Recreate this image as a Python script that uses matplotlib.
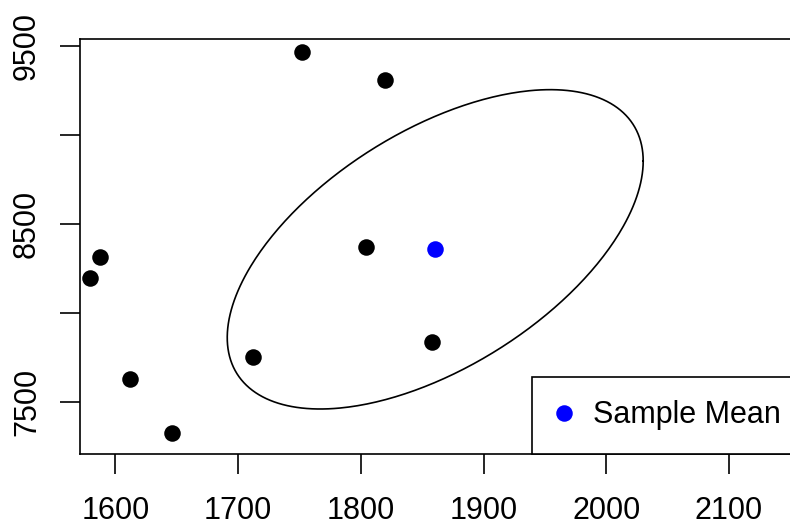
import numpy as np
import matplotlib
matplotlib.use("Agg")
import matplotlib.pyplot as plt
from matplotlib.lines import Line2D

plt.rcParams['font.family'] = ['Liberation Sans', 'DejaVu Sans']

# Observations (x, y)
obs_x = [1579, 1587, 1612, 1646, 1712, 1752, 1804, 1820, 1858]
obs_y = [8197, 8315, 7626, 7322, 7751, 9466, 8367, 9307, 7834]

# Sample mean
mean_xy = [1860.6, 8356]

# Ellipse shape matrix (covariance-like), radius 1
ellipse_cov = [[28730.0, 84060.0], [84060.0, 804600.0]]

x_ticks = [1600, 1700, 1800, 1900, 2000, 2100]
y_ticks = [7500, 8000, 8500, 9000, 9500]
y_tick_labels = ['7500', '', '8500', '', '9500']
legend_label = 'Sample Mean'

W, H = 790, 526
fig = plt.figure(figsize=(W / 100, H / 100), dpi=100)
left_px, right_px, top_px, bottom_px = 80, 795, 39, 453.5
ax = fig.add_axes([left_px / W, 1 - bottom_px / H,
                   (right_px - left_px) / W, (bottom_px - top_px) / H])

ax.set_xlim(1571.1, 1571.1 + (right_px - left_px) / 1.227)
ax.set_ylim(7209, 9537.6)

lw = 1.2
for s in ax.spines.values():
    s.set_linewidth(lw)
    s.set_color('black')

# ellipse
t = np.linspace(0, 2 * np.pi, 400)
L = np.linalg.cholesky(np.array(ellipse_cov))
pts = L @ np.vstack([np.cos(t), np.sin(t)])
ax.plot(mean_xy[0] + pts[0], mean_xy[1] + pts[1], color='black', lw=1.2)

ax.scatter(obs_x, obs_y, s=142, color='black', linewidths=0, zorder=3)
ax.scatter([mean_xy[0]], [mean_xy[1]], s=142, color='blue', linewidths=0, zorder=3)

ax.set_xticks(x_ticks)
ax.set_xticklabels([str(v) for v in x_ticks])
ax.set_yticks(y_ticks)
ax.set_yticklabels(y_tick_labels)
ax.tick_params(axis='both', length=14.4, width=lw, labelsize=22, color='black')
ax.tick_params(axis='x', pad=16)
ax.tick_params(axis='y', pad=13)
for lab in ax.get_yticklabels():
    lab.set_rotation(90)
    lab.set_va('center')

handle = Line2D([], [], marker='o', color='blue', linestyle='none', markersize=11.9,
                markeredgewidth=0)
x0 = (532 - left_px) / (right_px - left_px)
leg = ax.legend([handle], [legend_label], loc='lower left', bbox_to_anchor=(x0, 0),
                fontsize=22, frameon=True, fancybox=False, framealpha=1,
                edgecolor='black', borderaxespad=0, borderpad=0.76,
                handlelength=0.6, handletextpad=0.65)
leg.get_frame().set_linewidth(lw)

fig.savefig('out.png', dpi=100)
